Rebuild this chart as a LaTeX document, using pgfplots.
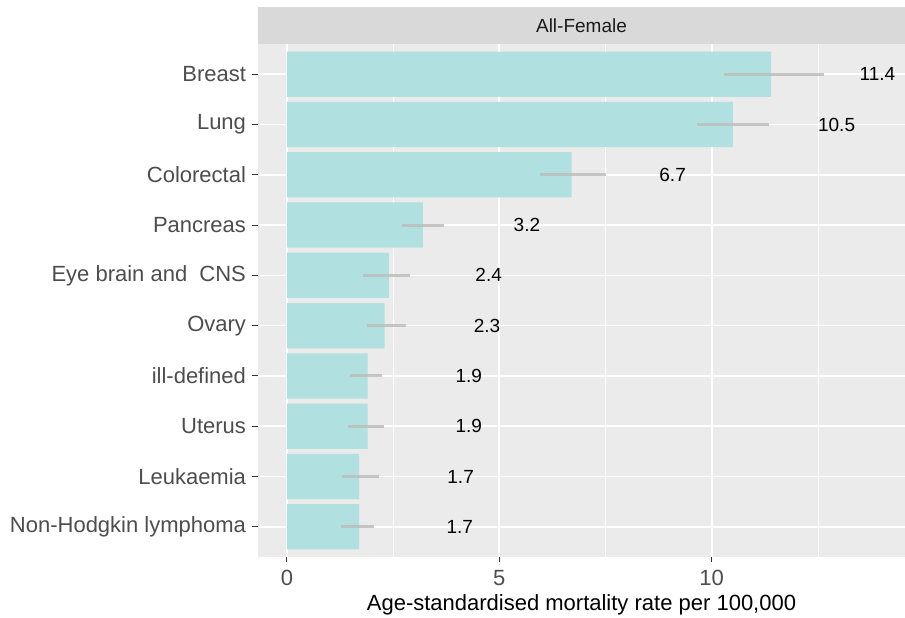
\documentclass[border=0pt]{standalone}
\usepackage{pgfplots}
\pgfplotsset{compat=1.18}
\usepackage{pgfplotstable}
\usepackage{fontspec}
\setmainfont{Liberation Sans}

\definecolor{panelbg}{HTML}{EBEBEB}
\definecolor{stripbg}{HTML}{D9D9D9}
\definecolor{stripfg}{HTML}{1A1A1A}
\definecolor{barfill}{HTML}{B0E0E0}
\definecolor{errgray}{HTML}{BDBDBD}
\definecolor{ticktext}{HTML}{4D4D4D}
\definecolor{tickmark}{HTML}{333333}

% row: 1 = bottom category; lo/hi: confidence interval; labx: label position
\pgfplotstableread{
row value lo    hi    labx  label
10  11.4  10.30 12.65 13.90 11.4
9   10.5  9.65  11.35 12.94 10.5
8   6.7   5.95  7.50  9.08  6.7
7   3.2   2.70  3.70  5.65  3.2
6   2.4   1.80  2.90  4.75  2.4
5   2.3   1.88  2.80  4.71  2.3
4   1.9   1.48  2.24  4.28  1.9
3   1.9   1.44  2.28  4.28  1.9
2   1.7   1.30  2.16  4.09  1.7
1   1.7   1.27  2.05  4.07  1.7
}\rates

\begin{document}
\begin{tikzpicture}
\begin{axis}[
  at={(0pt,0pt)}, anchor=south west,
  scale only axis, width=647pt, height=513pt,
  xmin=-0.68, xmax=14.55, ymin=0.4, ymax=10.6,
  axis background/.style={fill=panelbg},
  axis line style={draw=none},
  xtick={0,5,10}, minor xtick={2.5,7.5,12.5},
  ytick={1,2,3,4,5,6,7,8,9,10},
  yticklabels={Non-Hodgkin lymphoma, Leukaemia, Uterus, ill-defined, Ovary,
               Eye brain and\ \ CNS, Pancreas, Colorectal, Lung, Breast},
  grid=both,
  major grid style={white, line width=1.6pt},
  minor grid style={white, line width=0.8pt},
  tick align=outside, major tick length=5.5pt, minor tick length=0pt,
  tick style={tickmark, line width=1.1pt},
  xtick pos=bottom, ytick pos=left,
  /pgf/number format/assume math mode=true,
  ticklabel style={font=\fontsize{22}{25}\selectfont, text=ticktext},
  yticklabel style={xshift=-3pt},
  xticklabel style={yshift=-4pt},
  xlabel={Age-standardised mortality rate per 100,000},
  xlabel style={font=\fontsize{22}{26}\selectfont, text=black, yshift=-2pt},
  clip=false,
]
  % bars
  \addplot[xbar, bar width=0.9, fill=barfill, draw=none]
    table[x=value, y=row] {\rates};
  % confidence intervals
  \addplot[draw=none, mark=none, mark options={draw=none, fill=none},
    error bars/.cd, x dir=both, x explicit, error mark=none,
    error bar style={draw=errgray, line width=3pt, opacity=0.85}]
    table[x=value, y=row,
          x error plus expr=\thisrow{hi}-\thisrow{value},
          x error minus expr=\thisrow{value}-\thisrow{lo}] {\rates};
  % value labels
  \addplot[only marks, mark=none, nodes near coords,
    point meta=explicit symbolic,
    nodes near coords style={anchor=center, inner sep=0pt,
      font=\fontsize{19}{22}\selectfont, text=black}]
    table[x=labx, y=row, meta=label] {\rates};
  % facet strip
  \fill[stripbg] (rel axis cs:0,1) rectangle ([yshift=37pt]rel axis cs:1,1);
  \node[font=\fontsize{19}{22}\selectfont, text=stripfg]
    at ([yshift=18.5pt]rel axis cs:0.5,1) {All-Female};
\end{axis}
\pgfresetboundingbox
\useasboundingbox (-258pt,-61pt) rectangle (647pt,557pt);
\end{tikzpicture}
\end{document}
